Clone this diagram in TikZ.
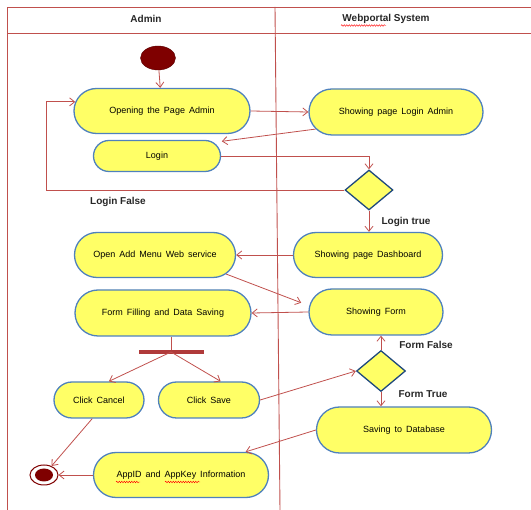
\documentclass[tikz,border=0pt]{standalone}
\usepackage{fontspec}
\setmainfont{Liberation Sans}
\newfontfamily\actfont[WordSpace=1.6]{Liberation Sans}
\usetikzlibrary{shapes.misc,shapes.geometric,arrows.meta,decorations.pathmorphing}
\definecolor{lnred}{HTML}{C0504D}
\definecolor{actfill}{HTML}{FFFF66}
\definecolor{actdraw}{HTML}{4F81BD}
\definecolor{maroon}{HTML}{7F0000}
\definecolor{barred}{HTML}{B03A3A}
\definecolor{decdraw}{HTML}{1F497D}
\tikzset{
  x=1pt,y=1pt,
  act/.style={rounded rectangle, draw=actdraw, fill=actfill, line width=1.3pt, inner sep=2pt, font=\actfont\fontsize{9}{10}\selectfont},
  dec/.style={diamond, draw=decdraw, fill=actfill, line width=1.3pt, minimum width=48pt, minimum height=40pt, inner sep=0pt},
  flow/.style={draw=lnred, line width=0.8pt, -{Straight Barb[length=5pt,width=8pt]}},
  lane/.style={draw=lnred, line width=0.9pt},
  lbl/.style={font=\bfseries\fontsize{10}{11}\selectfont, text=black!85},
  squig/.style={draw=red, line width=0.4pt, decorate, decoration={snake, amplitude=0.8pt, segment length=2.5pt}}
}
\begin{document}
\begin{tikzpicture}
\useasboundingbox (0,0) rectangle (531,-510);
% swimlane frame
\draw[lane] (531,-7) -- (7,-7) -- (7,-510);
\draw[lane] (7,-33) -- (531,-33);
\draw[lane] (275,-7) -- (280,-510);
\node[lbl] (hadmin) at (146,-19) {Admin};
\node[lbl] (hweb) at (386,-19) {Webportal System};
\draw[squig] (341,-25.5) -- (386,-25.5);

% start
\node[ellipse, fill=maroon, draw=maroon!70!black, minimum width=35pt, minimum height=24pt, inner sep=0pt] (start) at (158,-58) {};

% activities
\node[act, minimum width=180pt, minimum height=45pt] (open) at (162,-111) {Opening the Page Admin};
\node[act, minimum width=178pt, minimum height=46pt] (slogin) at (396,-112) {Showing page Login Admin};
\node[act, minimum width=131pt, minimum height=31pt] (login) at (157,-156) {Login};
\node[dec] (d1) at (369,-190) {};
\node[act, minimum width=153pt, minimum height=45pt] (dash) at (368,-255) {Showing page Dashboard};
\node[act, minimum width=165pt, minimum height=45pt] (menu) at (155,-255) {Open Add Menu Web service};
\node[act, minimum width=180pt, minimum height=46pt] (fill) at (163,-313) {Form Filling and Data Saving};
\node[act, minimum width=138pt, minimum height=46pt] (sform) at (376,-312) {Showing Form};
\node[fill=barred, minimum width=65pt, minimum height=4pt, inner sep=0pt] (bar) at (171,-352) {};
\node[act, minimum width=94pt, minimum height=36pt] (cancel) at (99,-400) {Click Cancel};
\node[act, minimum width=105pt, minimum height=36pt] (save) at (209,-400) {Click Save};
\node[dec, minimum width=49pt, minimum height=41pt] (d2) at (381,-371) {};
\node[act, minimum width=179pt, minimum height=46pt] (sdb) at (404,-430) {Saving to Database};
\node[act, minimum width=179pt, minimum height=45pt] (appid) at (181,-475) {AppID and AppKey Information};
\draw[squig] (116,-482) -- (140,-482);
\draw[squig] (165,-482) -- (200,-482);

% end
\node[ellipse, draw=maroon, line width=1pt, fill=white, minimum width=28pt, minimum height=20pt, inner sep=0pt] (endo) at (44,-475) {};
\node[ellipse, fill=maroon, minimum width=18pt, minimum height=13pt, inner sep=0pt] (endi) at (44,-475) {};

% labels
\node[lbl] (llf) at (118,-202) {Login False};
\node[lbl] (llt) at (406,-222) {Login true};
\node[lbl] (lff) at (426,-345) {Form False};
\node[lbl] (lft) at (423,-394) {Form True};

% flows
\coordinate (lfc) at (46,-190);
\draw[flow] (start) -- (open);
\draw[flow] (open.east) -- (slogin.west);
\draw[flow] (slogin.192) -- ([xshift=10pt]login.15);
\draw[flow] (login.east) -| (d1.north);
\draw[flow] (d1.west) -- (lfc) |- (open.174);
\draw[flow] (d1.south) -- (d1.south |- dash.north);
\draw[flow] (dash.west) -- (menu.east);
\draw[flow] (menu.345) -- ([xshift=-9pt]sform.172);
\draw[flow] (sform.west) -- (fill.east);
\draw[lane, draw=lnred] (fill.south -| bar.north) -- (bar.north);
\draw[flow] (bar.center) -- (cancel.62);
\draw[flow] (bar.center) -- (save.58);
\draw[flow] (save.east) -- (d2.west);
\draw[flow] (d2.north) -- (d2.north |- sform.south);
\draw[flow] (d2.south) -- (d2.south |- sdb.north);
\draw[flow] (sdb.west) -- ([xshift=1pt]appid.20);
\draw[flow] (cancel.250) -- (endo.50);
\draw[flow] (appid.west) -- (endo.east);
\end{tikzpicture}
\end{document}
